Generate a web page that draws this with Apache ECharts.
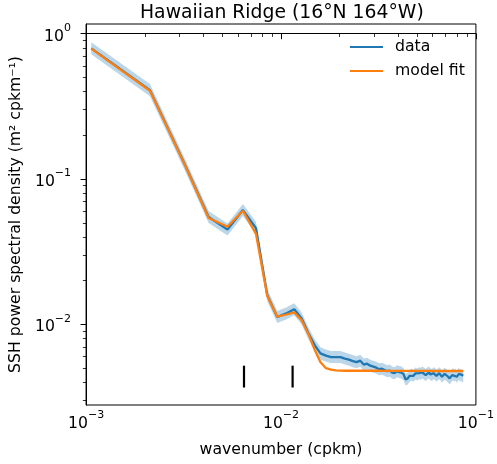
<!DOCTYPE html>
<html><head><meta charset="utf-8">
<script src="https://cdn.jsdelivr.net/npm/echarts@6.0.0/dist/echarts.min.js"></script>
<style>html,body{margin:0;padding:0;background:#fff}#chart{width:497px;height:464px}</style>
</head><body><div id="chart"></div>
<script>
const titleText = 'Hawaiian Ridge (16°N 164°W)';
const xAxisTitle = 'wavenumber (cpkm)';
const yAxisTitle = 'SSH power spectral density (m² cpkm⁻¹)';
const legendNames = ['data', 'model fit'];

const wavenumber = [
0.001063,0.002126,0.003189,0.004252,0.005315,0.006378,0.007441,0.008504,0.009567,0.01063,
0.011693,0.012756,0.013819,0.014882,0.015945,0.017008,0.018071,0.019134,0.020197,0.02126,
0.022323,0.023386,0.024449,0.025512,0.026575,0.027638,0.028701,0.029764,0.030827,0.03189,
0.032953,0.034016,0.035079,0.036142,0.037205,0.038268,0.039331,0.040394,0.041457,0.04252,
0.043583,0.044646,0.045709,0.046772,0.047835,0.048898,0.049961,0.051024,0.052087,0.05315,
0.054213,0.055276,0.056339,0.057402,0.058465,0.059528,0.060591,0.061654,0.062717,0.06378,
0.064843,0.065906,0.066969,0.068032,0.069095,0.070158,0.071221,0.072284,0.073347,0.07441,
0.075473,0.076536,0.077599,0.078662,0.079725,0.080788,0.081851,0.082914,0.083977,0.08504,
0.086103];

const psdData = [
0.793,0.409,0.1285,0.0548,0.0449,0.0612,0.046,0.0159,0.01125,0.0119,
0.0127,0.0110,0.0087,0.0072,0.00632,0.0061,0.00596,0.00596,0.00596,0.00582,
0.00572,0.00559,0.0055,0.00563,0.00529,0.00537,0.0052,0.00512,0.00504,0.00492,
0.00496,0.00485,0.00477,0.00481,0.00466,0.00462,0.00477,0.0047,0.00466,0.00455,
0.00418,0.00425,0.00443,0.00452,0.00443,0.0046,0.00452,0.00462,0.00457,0.00467,
0.00457,0.00448,0.0046,0.00467,0.00452,0.00448,0.00462,0.00457,0.00443,0.00452,
0.00462,0.00452,0.00436,0.00448,0.00457,0.00452,0.00443,0.00434,0.00425,0.00436,
0.00448,0.00455,0.00443,0.00452,0.00436,0.00448,0.00457,0.00443,0.00452,0.00438,
0.00443];

const psdModel = [
0.79,0.405,0.128,0.054,0.047,0.0605,0.042,0.0157,0.0113,0.0117,
0.0121,0.0107,0.0086,0.0067,0.0055,0.0050,0.00488,0.00483,0.00481,0.0048,
0.0048,0.0048,0.0048,0.0048,0.0048,0.0048,0.0048,0.0048,0.0048,0.0048,
0.00479,0.00479,0.00479,0.00479,0.00479,0.00479,0.00479,0.00479,0.00479,0.00479,
0.00479,0.00479,0.00479,0.00479,0.00479,0.00479,0.00479,0.00479,0.00479,0.00479,
0.00479,0.00479,0.00479,0.00479,0.00479,0.00478,0.00478,0.00478,0.00478,0.00478,
0.00478,0.00478,0.00478,0.00478,0.00478,0.00478,0.00478,0.00478,0.00478,0.00478,
0.00478,0.00478,0.00478,0.00478,0.00478,0.00478,0.00478,0.00478,0.00478,0.00478,
0.00478];

const ciFactor = 1.1;
const markerK = [0.00646, 0.01147];
const markerRange = [0.00368, 0.0052];

const xLimits = [0.001, 0.1];
const yLimits = [0.00279, 1.166];
const xMajorTicks = [0.001, 0.01, 0.1];
const yMajorTicks = [0.01, 0.1, 1];
const minorMantissas = [2, 3, 4, 5, 6, 7, 8, 9];
const minorDecades = [0.001, 0.01, 0.1];

const lg = Math.log10;
const minorTicks = [];
minorDecades.forEach(d => minorMantissas.forEach(m => minorTicks.push(lg(m * d))));

const FONT = 'DejaVu Sans';
const FS = 15.7;
const supLabel = v => {
  const e = Math.round(v);
  const s = e < 0 ? '\u2212' + (-e) : String(e);
  return '{b|10}{s|' + s + '}';
};
const richLabel = {
  b: { fontSize: FS, fontFamily: FONT, color: '#000', lineHeight: 22, verticalAlign: 'bottom' },
  s: { fontSize: 11, fontFamily: FONT, color: '#000', lineHeight: 22, verticalAlign: 'top' }
};

const xMin = lg(xLimits[0]), xMax = lg(xLimits[1]);
const yMin = lg(yLimits[0]), yMax = lg(yLimits[1]);

const chart = echarts.init(document.getElementById('chart'), null, { renderer: 'canvas' });

const dataPts = wavenumber.map((k, i) => [lg(k), lg(psdData[i])]);
const modelPts = wavenumber.map((k, i) => [lg(k), lg(psdModel[i])]);

const option = {
  animation: false,
  backgroundColor: '#fff',
  title: {
    text: titleText,
    left: 140,
    top: 4,
    padding: 0,
    textStyle: { fontSize: 18.8, fontWeight: 'normal', fontFamily: FONT, color: '#000' }
  },
  legend: {
    data: legendNames,
    orient: 'vertical',
    left: 345,
    top: 34,
    padding: 5,
    icon: 'rect',
    itemWidth: 33,
    itemHeight: 2,
    itemGap: 8,
    textStyle: { fontSize: FS, fontFamily: FONT, color: '#000', padding: [0, 0, 0, 7] }
  },
  grid: {
    left: 86, top: 24, width: 395, height: 381,
    show: true, borderColor: '#000', borderWidth: 1, containLabel: false
  },
  xAxis: [
    {
      type: 'value', min: xMin, max: xMax, position: 'bottom',
      name: xAxisTitle, nameLocation: 'middle', nameGap: 37,
      nameTextStyle: { fontSize: FS, fontFamily: FONT, color: '#000' },
      axisLine: { show: true, lineStyle: { color: '#000', width: 1 } },
      axisTick: { show: true, length: 5.5, lineStyle: { color: '#000', width: 1 }, customValues: xMajorTicks.map(lg) },
      axisLabel: { show: true, margin: 5, customValues: xMajorTicks.map(lg), formatter: supLabel, rich: richLabel },
      splitLine: { show: false }
    },
    {
      type: 'value', min: xMin, max: xMax, position: 'bottom',
      axisLine: { show: false },
      axisTick: { show: true, length: 3.2, lineStyle: { color: '#000', width: 0.8 }, customValues: minorTicks },
      axisLabel: { show: false },
      splitLine: { show: false }
    }
  ],
  yAxis: [
    {
      type: 'value', min: yMin, max: yMax, position: 'left',
      name: yAxisTitle, nameLocation: 'middle', nameGap: 57,
      nameTextStyle: { fontSize: FS, fontFamily: FONT, color: '#000' },
      axisLine: { show: true, lineStyle: { color: '#000', width: 1 } },
      axisTick: { show: true, length: 5.5, lineStyle: { color: '#000', width: 1 }, customValues: yMajorTicks.map(lg) },
      axisLabel: { show: true, margin: 15, customValues: yMajorTicks.map(lg), formatter: supLabel, rich: richLabel },
      splitLine: { show: false }
    },
    {
      type: 'value', min: yMin, max: yMax, position: 'left',
      axisLine: { show: false },
      axisTick: { show: true, length: 3.2, lineStyle: { color: '#000', width: 0.8 }, customValues: minorTicks.filter(v => v >= yMin && v <= yMax) },
      axisLabel: { show: false },
      splitLine: { show: false }
    }
  ],
  series: [
    {
      type: 'custom',
      name: 'ci',
      xAxisIndex: 0, yAxisIndex: 0,
      clip: true,
      z: 1,
      silent: true,
      data: [dataPts[0]],
      renderItem: function (params, api) {
        const upper = wavenumber.map((k, i) => api.coord([lg(k), lg(psdData[i] * ciFactor)]));
        const lower = wavenumber.map((k, i) => api.coord([lg(k), lg(psdData[i] / ciFactor)])).reverse();
        return { type: 'polygon', shape: { points: upper.concat(lower) }, style: { fill: 'rgba(31,119,180,0.3)' } };
      }
    },
    {
      type: 'line', name: legendNames[0], xAxisIndex: 0, yAxisIndex: 0,
      data: dataPts, showSymbol: false, symbol: 'none', z: 2,
      itemStyle: { color: '#1f77b4' },
      lineStyle: { color: '#1f77b4', width: 2.3 }
    },
    {
      type: 'line', name: legendNames[1], xAxisIndex: 0, yAxisIndex: 0,
      data: modelPts, showSymbol: false, symbol: 'none', z: 3,
      itemStyle: { color: '#ff7f0e' },
      lineStyle: { color: '#ff7f0e', width: 2.3 }
    },
    {
      type: 'custom', name: 'markers', xAxisIndex: 0, yAxisIndex: 0, z: 4, silent: true,
      data: markerK.map(k => [lg(k), lg(markerRange[0]), lg(markerRange[1])]),
      encode: { x: 0, y: [1, 2] },
      renderItem: function (params, api) {
        const p0 = api.coord([api.value(0), api.value(1)]);
        const p1 = api.coord([api.value(0), api.value(2)]);
        return { type: 'line', shape: { x1: p0[0], y1: p0[1], x2: p1[0], y2: p1[1] }, style: { stroke: '#000', lineWidth: 2.2 } };
      }
    }
  ]
};
chart.setOption(option);
</script>
</body></html>
